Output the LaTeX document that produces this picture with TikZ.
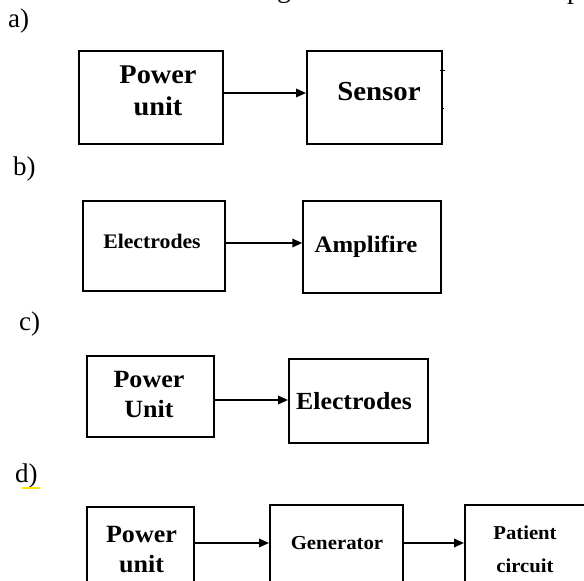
\documentclass[tikz,border=0pt]{standalone}
\usepackage{fontspec}
\setmainfont{Liberation Serif}
\newfontfamily\bx[FakeStretch=1.05,BoldFont={Liberation Serif Bold}]{Liberation Serif}
\usetikzlibrary{arrows.meta}
\tikzset{
  box/.style={draw, line width=2pt, inner sep=0pt},
  arr/.style={line width=1.8pt, -{Triangle[length=10pt,width=8.5pt]}},
  txt/.style={anchor=base, inner sep=0pt},
  lbl/.style={anchor=base west, inner sep=0pt, font=\fontsize{27}{27}\selectfont},
}
\newcommand{\bfs}[1]{\bx\bfseries\fontsize{#1}{#1}\selectfont}
\begin{document}
\begin{tikzpicture}[x=1pt,y=-1pt]
\useasboundingbox (0,0) rectangle (584,581);
% cut-off text fragments at the top edge
\node[txt, font=\fontsize{28}{28}\selectfont] (topg) at (284,-2.5) {g};
\node[txt, font=\fontsize{28}{28}\selectfont] (topp) at (574,-2) {p};

% a)
\node[lbl] (la) at (8,27) {a)};
\node[box, minimum width=144pt, minimum height=93pt] (a1) at (151,97.5) {};
\node[box, minimum width=135pt, minimum height=93pt] (a2) at (374.5,97.5) {};
\node[txt, font=\bfs{27}] (a1t) at (158,83) {Power};
\node[txt, font=\bfs{27}] (a1u) at (158,115) {unit};
\node[txt, font=\bfs{27.5}] (a2t) at (379,100) {Sensor};
\draw[arr] (a1.east |- 0,93) -- (a2.west |- 0,93);
\draw[line width=1pt] ([xshift=-3pt]a2.east |- 0,70) -- ([xshift=2pt]a2.east |- 0,70);
\draw[line width=1pt] ([xshift=-2pt]a2.east |- 0,108) -- ([xshift=1pt]a2.east |- 0,108);

% b)
\node[lbl] (lb) at (13,175) {b)};
\node[box, minimum width=142pt, minimum height=90pt] (b1) at (154,246) {};
\node[box, minimum width=137.5pt, minimum height=92pt] (b2) at (372,247) {};
\node[txt, font=\bfs{20.7}] (b1t) at (152,248) {Electrodes};
\node[txt, font=\bfs{23.6}] (b2t) at (366,252) {Amplifire};
\draw[arr] (b1.east |- 0,243) -- (b2.west |- 0,243);

% c)
\node[lbl] (lc) at (19,330) {c)};
\node[box, minimum width=127pt, minimum height=81pt] (c1) at (150.5,396.5) {};
\node[box, minimum width=139pt, minimum height=84pt] (c2) at (358.5,401) {};
\node[txt, font=\bfs{24.8}] (c1t) at (149,387) {Power};
\node[txt, font=\bfs{24.8}] (c1u) at (149,417) {Unit};
\node[txt, font=\bfs{24.6}] (c2t) at (354,409) {Electrodes};
\draw[arr] (c1.east |- 0,400) -- (c2.west |- 0,400);

% d)
\node[lbl] (ld) at (15,482) {d)};
\draw[yellow!85!orange, line width=1.5pt] (22,488) -- (40,488);
\node[box, minimum width=107pt, minimum height=93pt] (d1) at (140.5,553.5) {};
\node[box, minimum width=133pt, minimum height=95pt] (d2) at (336.5,552.5) {};
\node[box, minimum width=135pt, minimum height=95pt] (d3) at (532.5,552.5) {};
\node[txt, font=\bfs{24.8}] (d1t) at (141.5,542) {Power};
\node[txt, font=\bfs{24.8}] (d1u) at (141.5,572) {unit};
\node[txt, font=\bfs{19.8}] (d2t) at (337,549) {Generator};
\node[txt, font=\bfs{19.7}] (d3t) at (525,539) {Patient};
\node[txt, font=\bfs{19.7}] (d3u) at (525,572) {circuit};
\draw[arr] (d1.east |- 0,543) -- (d2.west |- 0,543);
\draw[arr] (d2.east |- 0,543) -- (d3.west |- 0,543);
\end{tikzpicture}
\end{document}
